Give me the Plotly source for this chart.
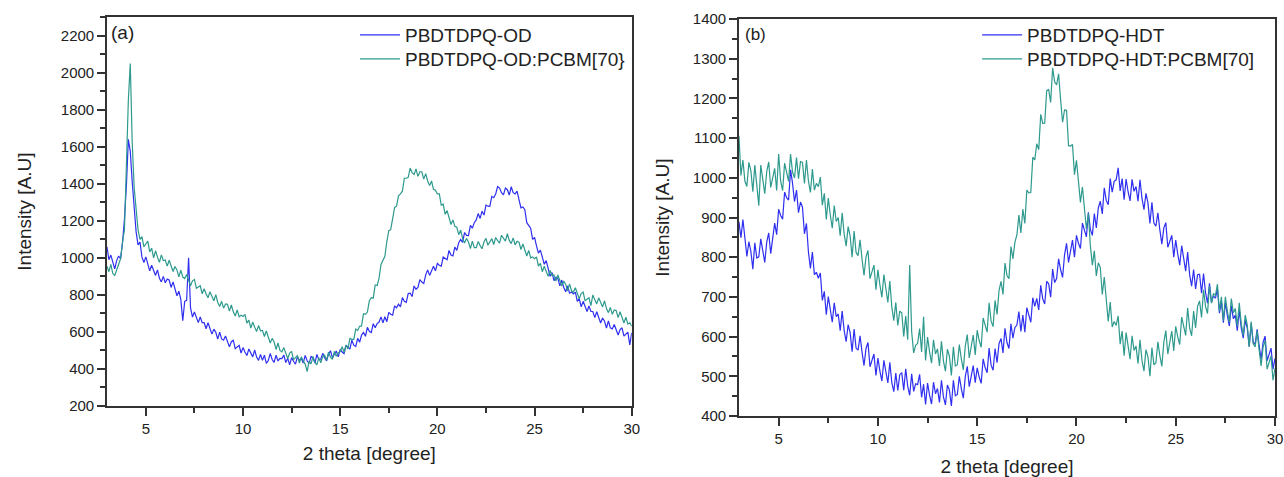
import numpy as np
import plotly.graph_objects as go

BLUE = "#2f2ff0"
TEAL = "#2e9a8e"
AXIS_COLOR = "#333333"
FONT = "Liberation Sans, Arial, sans-serif"

# 2 theta grid, 0.1 degree steps from 3 to 30
two_theta = np.round(np.arange(3.0, 30.001, 0.1), 1)

# (a) PBDTDPQ-OD
od = [
    1060, 990, 1015, 975, 940, 985, 1010, 995, 1080, 1210,
    1390, 1640, 1575, 1410, 1255, 1140, 1070, 1085, 1005, 975,
    1005, 965, 930, 960, 930, 905, 935, 890, 870, 900,
    865, 885, 880, 840, 870, 825, 795, 820, 775, 660,
    765, 770, 1000, 730, 680, 707, 675, 650, 680, 650,
    650, 617, 649, 611, 588, 615, 598, 561, 599, 562,
    555, 578, 546, 519, 547, 555, 509, 518, 527, 486,
    515, 491, 472, 508, 484, 465, 502, 464, 446, 478,
    446, 474, 430, 445, 483, 451, 435, 474, 443, 457,
    456, 475, 434, 458, 422, 461, 441, 426, 466, 446,
    456, 432, 473, 444, 430, 467, 459, 431, 478, 450,
    452, 484, 461, 443, 480, 498, 461, 479, 497, 465,
    505, 491, 482, 528, 515, 507, 555, 528, 521, 565,
    544, 583, 597, 576, 625, 603, 596, 644, 622, 645,
    653, 681, 649, 682, 655, 705, 695, 690, 740, 730,
    750, 735, 785, 765, 760, 807, 809, 791, 848, 830,
    840, 882, 869, 861, 908, 935, 905, 930, 955, 930,
    970, 960, 955, 1005, 995, 990, 1040, 1015, 1010, 1058,
    1040, 1082, 1100, 1083, 1137, 1121, 1120, 1175, 1160, 1190,
    1205, 1239, 1213, 1252, 1231, 1285, 1279, 1278, 1332, 1325,
    1345, 1385, 1377, 1352, 1340, 1377, 1368, 1339, 1384, 1352,
    1345, 1360, 1315, 1270, 1275, 1260, 1190, 1175, 1160, 1100,
    1110, 1065, 1025, 1042, 1000, 965, 985, 932, 900, 920,
    877, 895, 889, 849, 880, 841, 817, 848, 809, 815,
    805, 815, 765, 780, 735, 765, 735, 710, 740, 710,
    710, 677, 709, 671, 648, 675, 658, 621, 659, 622,
    616, 640, 609, 583, 612, 622, 577, 588, 599, 530,
    595,
]

# (a) PBDTDPQ-OD:PCBM[70]
od_pcbm = [
    955, 925, 965, 915, 905, 935, 975, 995, 1085, 1150,
    1500, 1850, 2050, 1620, 1380, 1260, 1150, 1100, 1115, 1060,
    1076, 1090, 1032, 1052, 1000, 1038, 1004, 976, 1016, 985,
    988, 955, 987, 949, 926, 953, 935, 897, 934, 896,
    888, 910, 877, 849, 876, 883, 835, 842, 849, 806,
    833, 806, 784, 817, 790, 768, 801, 759, 737, 765,
    728, 751, 749, 712, 745, 708, 686, 719, 682, 690,
    683, 695, 647, 664, 621, 653, 625, 602, 634, 606,
    608, 575, 605, 565, 540, 565, 545, 505, 540, 500,
    492, 515, 483, 456, 485, 495, 450, 460, 471, 432,
    465, 443, 426, 385, 442, 427, 468, 435, 422, 460,
    433, 466, 474, 447, 490, 463, 451, 494, 468, 487,
    493, 520, 490, 528, 508, 565, 560, 560, 615, 608,
    630, 632, 698, 695, 707, 768, 785, 782, 853, 850,
    890, 964, 984, 1008, 1088, 1147, 1152, 1211, 1271, 1280,
    1335, 1345, 1360, 1430, 1430, 1435, 1485, 1460, 1450, 1480,
    1440, 1465, 1465, 1425, 1455, 1415, 1390, 1415, 1370, 1365,
    1345, 1345, 1285, 1290, 1235, 1255, 1215, 1180, 1205, 1170,
    1165, 1125, 1150, 1105, 1080, 1105, 1085, 1050, 1090, 1055,
    1055, 1088, 1066, 1049, 1087, 1105, 1068, 1086, 1104, 1072,
    1110, 1093, 1080, 1122, 1104, 1090, 1130, 1094, 1077, 1108,
    1070, 1090, 1085, 1045, 1075, 1035, 1010, 1040, 1000, 1005,
    995, 1005, 955, 970, 925, 955, 925, 900, 932, 905,
    908, 875, 907, 870, 848, 875, 858, 821, 859, 822,
    815, 838, 806, 779, 807, 815, 768, 776, 784, 742,
    800, 773, 751, 784, 757, 735, 768, 726, 704, 732,
    695, 718, 715, 677, 709, 671, 648, 680, 642, 649,
    630,
]

# (b) PBDTDPQ-HDT
hdt = [
    889, 849, 895, 838, 802, 839, 815, 770, 836, 798,
    801, 846, 813, 787, 838, 861, 809, 845, 886, 857,
    921, 905, 896, 964, 950, 944, 1020, 986, 940, 969,
    912, 939, 926, 859, 885, 813, 772, 813, 756, 762,
    747, 760, 691, 714, 655, 701, 665, 636, 685, 650,
    657, 615, 664, 615, 587, 630, 610, 562, 619, 571,
    566, 602, 561, 527, 570, 585, 524, 540, 556, 502,
    546, 513, 488, 540, 508, 483, 535, 484, 461, 508,
    464, 504, 509, 465, 519, 475, 452, 506, 462, 481,
    479, 505, 447, 480, 429, 483, 453, 430, 485, 456,
    469, 434, 490, 448, 428, 478, 465, 425, 490, 451,
    454, 500, 469, 445, 499, 525, 474, 500, 527, 484,
    521, 498, 482, 544, 522, 509, 571, 528, 515, 570,
    534, 582, 595, 559, 621, 585, 570, 632, 596, 623,
    629, 663, 613, 654, 611, 673, 651, 636, 698, 676,
    696, 667, 729, 695, 682, 739, 733, 699, 770, 736,
    746, 796, 769, 749, 806, 835, 787, 816, 843, 800,
    855, 835, 822, 886, 866, 851, 913, 870, 855, 910,
    874, 924, 941, 909, 975, 943, 932, 998, 964, 991,
    995, 1025, 967, 998, 945, 997, 965, 942, 996, 966,
    978, 941, 995, 948, 920, 961, 937, 885, 938, 886,
    878, 912, 869, 833, 874, 887, 825, 840, 855, 800,
    843, 808, 780, 829, 794, 765, 813, 756, 727, 769,
    720, 756, 757, 709, 759, 711, 684, 734, 686, 702,
    697, 720, 659, 689, 635, 686, 653, 627, 678, 645,
    654, 615, 667, 621, 596, 641, 622, 575, 633, 586,
    581, 618, 577, 543, 586, 601, 539, 555, 571, 518,
    545,
]

# (b) PBDTDPQ-HDT:PCBM[70]
hdt_pcbm = [
    1106, 1006, 1045, 992, 978, 1039, 1018, 965, 1032, 984,
    930, 1032, 992, 960, 1016, 1040, 976, 1000, 1024, 968,
    1060, 992, 968, 1037, 1010, 991, 1060, 1014, 1000, 1051,
    998, 1041, 1039, 986, 1045, 992, 963, 1022, 969, 986,
    978, 1002, 931, 961, 895, 949, 907, 873, 930, 890,
    900, 854, 912, 858, 828, 877, 854, 800, 866, 812,
    804, 844, 795, 754, 801, 817, 746, 763, 780, 718,
    768, 730, 699, 756, 717, 686, 740, 674, 640, 686,
    628, 664, 660, 600, 652, 592, 780, 612, 559, 578,
    583, 620, 561, 650, 540, 599, 562, 533, 592, 556,
    569, 526, 588, 538, 513, 568, 551, 502, 574, 526,
    529, 580, 544, 516, 576, 605, 546, 575, 604, 554,
    616, 590, 573, 647, 625, 611, 685, 639, 625, 691,
    656, 716, 739, 706, 785, 754, 746, 827, 796, 838,
    856, 906, 861, 921, 885, 969, 962, 963, 1052, 1045,
    1086, 1071, 1160, 1137, 1138, 1219, 1223, 1190, 1277, 1242,
    1234, 1262, 1197, 1140, 1171, 1170, 1081, 1080, 1084, 1008,
    1044, 987, 938, 977, 920, 871, 910, 829, 780, 816,
    753, 786, 774, 706, 750, 682, 638, 687, 624, 638,
    628, 652, 581, 614, 552, 610, 572, 543, 602, 565,
    576, 532, 592, 540, 513, 567, 549, 500, 572, 529,
    534, 587, 552, 525, 586, 615, 556, 585, 614, 564,
    626, 599, 580, 649, 622, 603, 672, 621, 602, 664,
    622, 676, 690, 648, 718, 676, 658, 728, 684, 708,
    704, 732, 664, 700, 640, 700, 664, 636, 696, 660,
    671, 626, 685, 632, 603, 654, 630, 574, 638, 582,
    574, 614, 566, 526, 574, 590, 518, 534, 551, 490,
    520,
]

fig = go.Figure()

# one legend per entry so the row spacing can match the original
fig.add_trace(go.Scatter(x=two_theta, y=od, name="PBDTDPQ-OD", mode="lines",
                         line=dict(color=BLUE, width=1.2), xaxis="x", yaxis="y", legend="legend"))
fig.add_trace(go.Scatter(x=two_theta, y=od_pcbm, name="PBDTDPQ-OD:PCBM[70}", mode="lines",
                         line=dict(color=TEAL, width=1.2), xaxis="x", yaxis="y", legend="legend2"))
fig.add_trace(go.Scatter(x=two_theta, y=hdt, name="PBDTDPQ-HDT", mode="lines",
                         line=dict(color=BLUE, width=1.2), xaxis="x2", yaxis="y2", legend="legend3"))
fig.add_trace(go.Scatter(x=two_theta, y=hdt_pcbm, name="PBDTDPQ-HDT:PCBM[70]", mode="lines",
                         line=dict(color=TEAL, width=1.2), xaxis="x2", yaxis="y2", legend="legend4"))

axis_common = dict(
    showline=True, linecolor=AXIS_COLOR, linewidth=1.5, mirror=True,
    ticks="outside", ticklen=8, tickwidth=1.5, tickcolor=AXIS_COLOR,
    showgrid=False, zeroline=False, automargin=False,
    tickfont=dict(family=FONT, size=15, color="#222222"),
)
title_font = dict(family=FONT, size=19, color="#222222")

legend_common = dict(
    xanchor="left", yanchor="top", bgcolor="rgba(0,0,0,0)",
    font=dict(family=FONT, size=19, color="#222222"),
    tracegroupgap=0, itemwidth=40,
)

fig.update_layout(
    width=1284, height=477,
    margin=dict(l=0, r=0, t=0, b=0, autoexpand=False),
    paper_bgcolor="white", plot_bgcolor="white",
    xaxis=dict(domain=[0.0833, 0.492], range=[3, 30], dtick=5, tick0=0,
               minor=dict(dtick=2.5, ticklen=5, tickcolor=AXIS_COLOR, ticks="outside"),
               anchor="y", title=dict(text="2 theta [degree]", font=title_font, standoff=11),
               **axis_common),
    yaxis=dict(domain=[0.149, 0.964], range=[200, 2300], dtick=200, tick0=0,
               minor=dict(dtick=100, ticklen=5, tickcolor=AXIS_COLOR, ticks="outside"),
               anchor="x", title=dict(text="Intensity [A.U]", font=title_font, standoff=24),
               **axis_common),
    xaxis2=dict(domain=[0.5755, 0.993], range=[3, 30], dtick=5, tick0=0,
                minor=dict(dtick=2.5, ticklen=5, tickcolor=AXIS_COLOR, ticks="outside"),
                anchor="y2", title=dict(text="2 theta [degree]", font=title_font, standoff=15),
                **axis_common),
    yaxis2=dict(domain=[0.128, 0.960], range=[400, 1400], dtick=100, tick0=0,
                minor=dict(dtick=50, ticklen=5, tickcolor=AXIS_COLOR, ticks="outside"),
                anchor="x2", title=dict(text="Intensity [A.U]", font=title_font, standoff=18),
                **axis_common),
    legend=dict(x=0.2765, y=0.9665, **legend_common),
    legend2=dict(x=0.2765, y=0.916, **legend_common),
    legend3=dict(x=0.761, y=0.9665, **legend_common),
    legend4=dict(x=0.761, y=0.916, **legend_common),
    annotations=[
        dict(text="(a)", x=0.085, y=0.958, xref="paper", yref="paper", xanchor="left", yanchor="top",
             showarrow=False, font=dict(family=FONT, size=19, color="#222222")),
        dict(text="(b)", x=0.579, y=0.952, xref="paper", yref="paper", xanchor="left", yanchor="top",
             showarrow=False, font=dict(family=FONT, size=17, color="#222222")),
    ],
    showlegend=True,
)

# drop the default 8px body margin so the page is exactly the figure size
fig.write_html("out.html", config={"displayModeBar": False},
               post_script="document.body.style.margin = '0';")
